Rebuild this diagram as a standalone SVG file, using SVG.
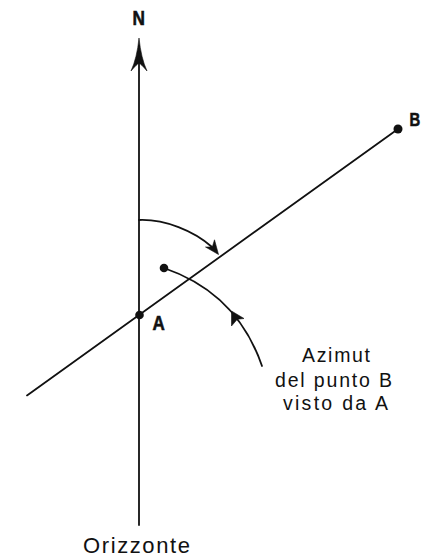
<svg xmlns="http://www.w3.org/2000/svg" width="427" height="558" viewBox="0 0 427 558">
<style>
.ln{fill:none;stroke:#111;stroke-width:1.8;stroke-linecap:round}
.ah{fill:#111;stroke:#111;stroke-width:0.6;stroke-linejoin:round}
.dot{fill:#111}
.bold{font-family:"Liberation Sans",Arial,sans-serif;font-weight:bold;fill:#111;stroke:#111;stroke-width:0.6}
.lbl{font-family:"Liberation Sans",Arial,sans-serif;fill:#111;text-anchor:middle}
</style>
<rect width="427" height="558" fill="#fff"/>
<g id="connectors">
<line class="ln" x1="139" y1="60" x2="139" y2="525"/>
<path class="ah" d="M139,38 Q141,58 147,71 Q141,64 139,63 Q137,64 131,71 Q137,58 139,38 Z"/>
<line class="ln" x1="27" y1="395.4" x2="398" y2="129"/>
<path class="ln" d="M139,220 C165,219 194,231 212,247"/>
<path class="ah" d="M218.5,254.5 L205.5,247 L212.3,247 L214.5,239.8 Z"/>
<path class="ln" d="M164,268 Q237,293 262,366"/>
<path class="ah" d="M231.5,311 L244,318.5 L237.3,319.3 L231.5,326 Z"/>
</g>
<g id="node-N"><text class="bold" transform="translate(132.5,25) scale(0.82,1)" font-size="21">N</text></g>
<g id="node-B"><circle class="dot" cx="398" cy="129" r="4.5"/><text class="bold" transform="translate(409.5,126) scale(0.78,1)" font-size="19">B</text></g>
<g id="node-A"><circle class="dot" cx="139.5" cy="315" r="4.3"/><text class="bold" transform="translate(152.5,330) scale(0.85,1)" font-size="20">A</text></g>
<g id="node-dot"><circle class="dot" cx="164" cy="268" r="4.3"/></g>
<g id="node-label">
<text class="lbl" x="336" y="362" font-size="19.5" textLength="68" lengthAdjust="spacing">Azimut</text>
<text class="lbl" x="333.5" y="387" font-size="19.5" textLength="117" lengthAdjust="spacing">del punto B</text>
<text class="lbl" x="335.5" y="410" font-size="19.5" textLength="105" lengthAdjust="spacing">visto da A</text>
</g>
<g id="node-Orizzonte"><text class="lbl" x="136.5" y="553" font-size="22" textLength="107" lengthAdjust="spacing">Orizzonte</text></g>
</svg>
